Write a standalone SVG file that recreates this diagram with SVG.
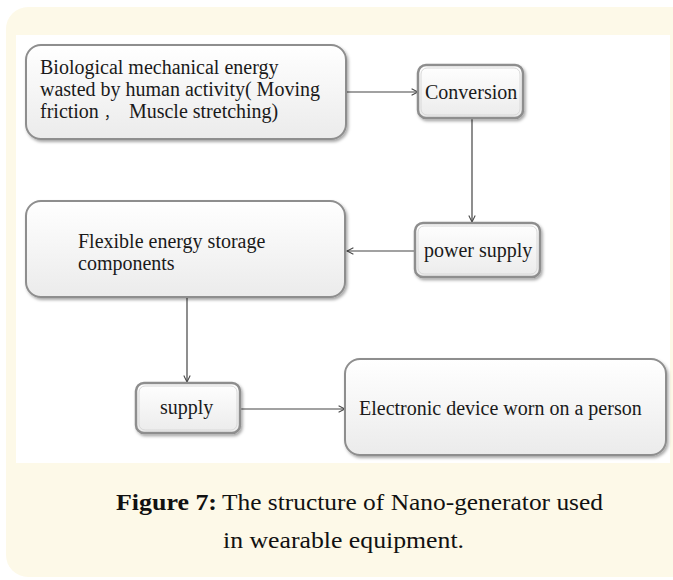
<svg xmlns="http://www.w3.org/2000/svg" width="673" height="580" viewBox="0 0 673 580">
<style>
.box{fill:url(#g);stroke:#8e8e8e;stroke-width:2}
.sbox{fill:url(#g);stroke:#8e8e8e;stroke-width:2.5}
.inner{fill:none;stroke:#d8d8d8;stroke-width:1}
.t{font-family:"Liberation Serif","Times New Roman",serif;font-size:20px;fill:#1a1a1a}
.cap{font-family:"Liberation Serif","Times New Roman",serif;font-size:23px;fill:#111}
.c{stroke:#444;stroke-width:1.2;fill:none;marker-end:url(#a)}
</style>
<defs>
<linearGradient id="g" x1="0" y1="0" x2="0" y2="1">
<stop offset="0" stop-color="#ffffff"/>
<stop offset="1" stop-color="#ebebeb"/>
</linearGradient>
<filter id="sh" x="-10%" y="-10%" width="130%" height="140%">
<feDropShadow dx="1.5" dy="2" stdDeviation="1.5" flood-color="#000" flood-opacity="0.35"/>
</filter>
<marker id="a" viewBox="0 0 10 10" refX="9" refY="5" markerWidth="8" markerHeight="8" markerUnits="userSpaceOnUse" orient="auto">
<path d="M1,1 L9,5 L1,9" fill="none" stroke="#444" stroke-width="1.3"/>
</marker>
</defs>
<rect x="6" y="7" width="687" height="570" rx="22" fill="#fdf9e8"/>
<rect x="16" y="35" width="654" height="428" fill="#ffffff"/>
<g id="connectors">
<path class="c" d="M346,92 H418"/>
<path class="c" d="M472,118 V222"/>
<path class="c" d="M415,251 H347"/>
<path class="c" d="M187,297 V382"/>
<path class="c" d="M240,409 H345"/>
</g>
<g id="n_bio">
<rect class="box" x="26" y="45" width="320" height="94" rx="15" filter="url(#sh)"/>
<text class="t" x="40" y="74">Biological mechanical energy</text>
<text class="t" x="40" y="96">wasted by human activity( Moving</text>
<text class="t" x="40" y="118" xml:space="preserve">friction <tspan font-family="'Noto Sans CJK SC',sans-serif" font-size="14">，</tspan><tspan dx="6"> Muscle stretching)</tspan></text>
</g>
<g id="n_conversion">
<rect class="sbox" x="418" y="65" width="105" height="53" rx="8" filter="url(#sh)"/>
<rect class="inner" x="421" y="68" width="99" height="47" rx="6"/>
<text class="t" x="425" y="99">Conversion</text>
</g>
<g id="n_power">
<rect class="sbox" x="415" y="223" width="125" height="54" rx="8" filter="url(#sh)"/>
<rect class="inner" x="418" y="226" width="119" height="48" rx="6"/>
<text class="t" x="424" y="257">power supply</text>
</g>
<g id="n_flexible">
<rect class="box" x="26" y="201" width="319" height="96" rx="15" filter="url(#sh)"/>
<text class="t" x="78" y="248">Flexible energy storage</text>
<text class="t" x="78" y="270">components</text>
</g>
<g id="n_supply">
<rect class="sbox" x="136" y="383" width="104" height="50" rx="8" filter="url(#sh)"/>
<rect class="inner" x="139" y="386" width="98" height="44" rx="6"/>
<text class="t" x="160" y="414">supply</text>
</g>
<g id="n_device">
<rect class="box" x="345" y="359" width="321" height="96" rx="15" filter="url(#sh)"/>
<text class="t" x="359" y="415">Electronic device worn on a person</text>
</g>
<g id="caption">
<text class="cap" x="116" y="510" font-weight="bold" textLength="101" lengthAdjust="spacingAndGlyphs">Figure 7:</text>
<text class="cap" x="222" y="510" textLength="381" lengthAdjust="spacingAndGlyphs">The structure of Nano-generator used</text>
<text class="cap" x="223" y="548" textLength="241" lengthAdjust="spacingAndGlyphs">in wearable equipment.</text>
</g>
</svg>
